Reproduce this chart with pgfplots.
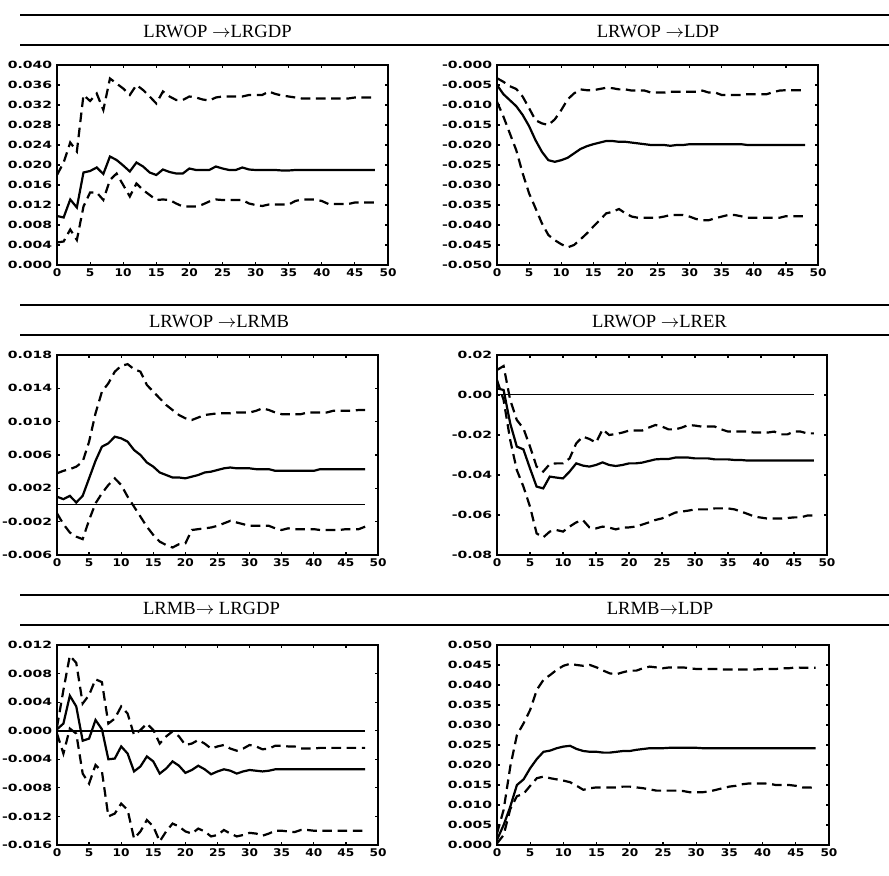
\documentclass[border=0pt]{standalone}
\usepackage{pgfplots}
\usepackage{pgfplotstable}
\pgfplotsset{compat=1.18}
\usepackage{fontspec}
\setmainfont{Liberation Serif}
\newfontfamily\ytf[FakeStretch=1.4]{DejaVu Sans}
\newfontfamily\xtf[FakeStretch=1.15]{DejaVu Sans}

\pgfplotstableread{
t m h l
0 0.0098 0.0180 0.0045
1 0.0095 0.0205 0.0047
2 0.0131 0.0245 0.0071
3 0.0115 0.0227 0.0050
4 0.0185 0.0340 0.0117
5 0.0188 0.0328 0.0145
6 0.0195 0.0343 0.0145
7 0.0182 0.0310 0.0130
8 0.0217 0.0373 0.0170
9 0.0210 0.0363 0.0183
10 0.0199 0.0353 0.0160
11 0.0187 0.0340 0.0137
12 0.0205 0.0360 0.0163
13 0.0197 0.0350 0.0150
14 0.0185 0.0337 0.0140
15 0.0180 0.0323 0.0130
16 0.0191 0.0347 0.0131
17 0.0186 0.0337 0.0130
18 0.0183 0.0330 0.0123
19 0.0183 0.0330 0.0117
20 0.0193 0.0337 0.0117
21 0.0190 0.0335 0.0117
22 0.0190 0.0331 0.0121
23 0.0190 0.0329 0.0127
24 0.0197 0.0335 0.0131
25 0.0193 0.0337 0.0130
26 0.0190 0.0337 0.0130
27 0.0190 0.0337 0.0130
28 0.0195 0.0337 0.0130
29 0.0191 0.0340 0.0123
30 0.0190 0.0340 0.0120
31 0.0190 0.0340 0.0118
32 0.0190 0.0347 0.0121
33 0.0190 0.0342 0.0121
34 0.0189 0.0339 0.0121
35 0.0189 0.0337 0.0121
36 0.0190 0.0335 0.0128
37 0.0190 0.0333 0.0131
38 0.0190 0.0333 0.0131
39 0.0190 0.0333 0.0131
40 0.0190 0.0333 0.0128
41 0.0190 0.0333 0.0122
42 0.0190 0.0333 0.0122
43 0.0190 0.0333 0.0122
44 0.0190 0.0333 0.0122
45 0.0190 0.0335 0.0125
46 0.0190 0.0335 0.0125
47 0.0190 0.0335 0.0125
48 0.0190 0.0335 0.0125
}\tA

\pgfplotstableread{
t m h l
0 -0.0050 -0.0033 -0.0092
1 -0.0073 -0.0042 -0.0129
2 -0.0088 -0.0053 -0.0171
3 -0.0103 -0.0060 -0.0213
4 -0.0125 -0.0079 -0.0271
5 -0.0153 -0.0108 -0.0321
6 -0.0188 -0.0138 -0.0358
7 -0.0217 -0.0146 -0.0396
8 -0.0238 -0.0150 -0.0425
9 -0.0242 -0.0136 -0.0438
10 -0.0238 -0.0113 -0.0448
11 -0.0232 -0.0086 -0.0456
12 -0.0221 -0.0071 -0.0450
13 -0.0210 -0.0061 -0.0436
14 -0.0203 -0.0063 -0.0421
15 -0.0198 -0.0063 -0.0404
16 -0.0194 -0.0060 -0.0388
17 -0.0190 -0.0057 -0.0371
18 -0.0190 -0.0058 -0.0367
19 -0.0192 -0.0061 -0.0360
20 -0.0192 -0.0061 -0.0371
21 -0.0194 -0.0064 -0.0379
22 -0.0196 -0.0064 -0.0382
23 -0.0198 -0.0064 -0.0382
24 -0.0200 -0.0069 -0.0382
25 -0.0200 -0.0069 -0.0382
26 -0.0200 -0.0069 -0.0379
27 -0.0202 -0.0067 -0.0375
28 -0.0200 -0.0067 -0.0375
29 -0.0200 -0.0067 -0.0375
30 -0.0198 -0.0067 -0.0379
31 -0.0198 -0.0067 -0.0385
32 -0.0198 -0.0064 -0.0388
33 -0.0198 -0.0069 -0.0388
34 -0.0198 -0.0069 -0.0383
35 -0.0198 -0.0075 -0.0379
36 -0.0198 -0.0075 -0.0375
37 -0.0198 -0.0075 -0.0375
38 -0.0198 -0.0075 -0.0378
39 -0.0200 -0.0073 -0.0382
40 -0.0200 -0.0073 -0.0382
41 -0.0200 -0.0073 -0.0382
42 -0.0200 -0.0073 -0.0382
43 -0.0200 -0.0068 -0.0382
44 -0.0200 -0.0064 -0.0382
45 -0.0200 -0.0063 -0.0378
46 -0.0200 -0.0063 -0.0378
47 -0.0200 -0.0063 -0.0378
48 -0.0200 -0.0063 -0.0378
}\tB

\pgfplotstableread{
t m h l
0 0.0010 0.0038 -0.0010
1 0.0007 0.0041 -0.0023
2 0.0011 0.0043 -0.0033
3 0.0003 0.0046 -0.0038
4 0.0011 0.0052 -0.0041
5 0.0032 0.0076 -0.0018
6 0.0053 0.0110 0.0002
7 0.0070 0.0136 0.0014
8 0.0074 0.0146 0.0024
9 0.0082 0.0160 0.0032
10 0.0080 0.0167 0.0024
11 0.0076 0.0169 0.0010
12 0.0066 0.0163 -0.0002
13 0.0060 0.0160 -0.0014
14 0.0051 0.0144 -0.0026
15 0.0046 0.0136 -0.0036
16 0.0039 0.0128 -0.0044
17 0.0036 0.0120 -0.0048
18 0.0033 0.0114 -0.0051
19 0.0033 0.0108 -0.0047
20 0.0032 0.0104 -0.0046
21 0.0034 0.0102 -0.0030
22 0.0036 0.0105 -0.0029
23 0.0039 0.0108 -0.0028
24 0.0040 0.0109 -0.0027
25 0.0042 0.0110 -0.0025
26 0.0044 0.0110 -0.0022
27 0.0045 0.0110 -0.0019
28 0.0044 0.0111 -0.0021
29 0.0044 0.0111 -0.0023
30 0.0044 0.0111 -0.0025
31 0.0043 0.0113 -0.0025
32 0.0043 0.0116 -0.0025
33 0.0043 0.0114 -0.0025
34 0.0041 0.0111 -0.0028
35 0.0041 0.0109 -0.0030
36 0.0041 0.0109 -0.0028
37 0.0041 0.0109 -0.0029
38 0.0041 0.0109 -0.0029
39 0.0041 0.0111 -0.0029
40 0.0041 0.0111 -0.0029
41 0.0043 0.0111 -0.0030
42 0.0043 0.0111 -0.0030
43 0.0043 0.0113 -0.0030
44 0.0043 0.0113 -0.0030
45 0.0043 0.0113 -0.0029
46 0.0043 0.0113 -0.0029
47 0.0043 0.0114 -0.0029
48 0.0043 0.0114 -0.0026
}\tC

\pgfplotstableread{
t m h l
0 0.0033 0.0125 0.0075
1 0.0025 0.0145 -0.0025
2 -0.0142 -0.0025 -0.0225
3 -0.0258 -0.0125 -0.0375
4 -0.0272 -0.0167 -0.0458
5 -0.0367 -0.0258 -0.0558
6 -0.0458 -0.0358 -0.0692
7 -0.0467 -0.0383 -0.0712
8 -0.0408 -0.0345 -0.0683
9 -0.0413 -0.0342 -0.0675
10 -0.0417 -0.0342 -0.0683
11 -0.0383 -0.0317 -0.0658
12 -0.0342 -0.0242 -0.0637
13 -0.0353 -0.0208 -0.0625
14 -0.0358 -0.0220 -0.0662
15 -0.0350 -0.0238 -0.0667
16 -0.0337 -0.0172 -0.0658
17 -0.0350 -0.0200 -0.0663
18 -0.0355 -0.0195 -0.0672
19 -0.0350 -0.0188 -0.0663
20 -0.0342 -0.0178 -0.0662
21 -0.0342 -0.0178 -0.0658
22 -0.0338 -0.0178 -0.0648
23 -0.0330 -0.0163 -0.0637
24 -0.0322 -0.0150 -0.0625
25 -0.0320 -0.0158 -0.0617
26 -0.0320 -0.0172 -0.0603
27 -0.0313 -0.0172 -0.0588
28 -0.0313 -0.0163 -0.0583
29 -0.0313 -0.0150 -0.0578
30 -0.0317 -0.0153 -0.0572
31 -0.0317 -0.0158 -0.0572
32 -0.0317 -0.0158 -0.0572
33 -0.0322 -0.0158 -0.0567
34 -0.0322 -0.0172 -0.0567
35 -0.0322 -0.0183 -0.0567
36 -0.0325 -0.0183 -0.0572
37 -0.0325 -0.0183 -0.0583
38 -0.0328 -0.0183 -0.0595
39 -0.0328 -0.0188 -0.0608
40 -0.0328 -0.0188 -0.0613
41 -0.0328 -0.0188 -0.0618
42 -0.0328 -0.0183 -0.0618
43 -0.0328 -0.0197 -0.0618
44 -0.0328 -0.0197 -0.0615
45 -0.0328 -0.0183 -0.0612
46 -0.0328 -0.0183 -0.0612
47 -0.0328 -0.0192 -0.0603
48 -0.0328 -0.0192 -0.0603
}\tD

\pgfplotstableread{
t m h l
0 0.0002 0.0005 -0.0004
1 0.0010 0.0057 -0.0032
2 0.0049 0.0105 0.0003
3 0.0034 0.0095 -0.0004
4 -0.0014 0.0038 -0.0060
5 -0.0011 0.0050 -0.0074
6 0.0015 0.0072 -0.0048
7 0.0002 0.0068 -0.0057
8 -0.0040 0.0010 -0.0120
9 -0.0039 0.0017 -0.0116
10 -0.0022 0.0034 -0.0102
11 -0.0032 0.0024 -0.0111
12 -0.0057 -0.0006 -0.0151
13 -0.0050 0.0001 -0.0141
14 -0.0036 0.0010 -0.0125
15 -0.0043 0.0001 -0.0134
16 -0.0060 -0.0018 -0.0155
17 -0.0053 -0.0008 -0.0141
18 -0.0043 -0.0001 -0.0130
19 -0.0049 -0.0008 -0.0134
20 -0.0059 -0.0020 -0.0141
21 -0.0055 -0.0018 -0.0144
22 -0.0049 -0.0013 -0.0137
23 -0.0054 -0.0018 -0.0141
24 -0.0061 -0.0025 -0.0148
25 -0.0057 -0.0022 -0.0146
26 -0.0054 -0.0020 -0.0139
27 -0.0056 -0.0025 -0.0144
28 -0.0060 -0.0028 -0.0148
29 -0.0057 -0.0025 -0.0146
30 -0.0055 -0.0020 -0.0143
31 -0.0056 -0.0022 -0.0144
32 -0.0057 -0.0026 -0.0147
33 -0.0056 -0.0025 -0.0144
34 -0.0054 -0.0021 -0.0140
35 -0.0054 -0.0021 -0.0140
36 -0.0054 -0.0022 -0.0141
37 -0.0054 -0.0022 -0.0142
38 -0.0054 -0.0025 -0.0139
39 -0.0054 -0.0025 -0.0139
40 -0.0054 -0.0025 -0.0140
41 -0.0054 -0.0024 -0.0140
42 -0.0054 -0.0024 -0.0140
43 -0.0054 -0.0024 -0.0140
44 -0.0054 -0.0024 -0.0140
45 -0.0054 -0.0024 -0.0140
46 -0.0054 -0.0024 -0.0140
47 -0.0054 -0.0024 -0.0140
48 -0.0054 -0.0024 -0.0140
}\tE

\pgfplotstableread{
t m h l
0 0.0013 0.0029 0.0004
1 0.0050 0.0088 0.0025
2 0.0096 0.0196 0.0090
3 0.0150 0.0275 0.0122
4 0.0164 0.0304 0.0128
5 0.0192 0.0338 0.0148
6 0.0215 0.0388 0.0167
7 0.0233 0.0413 0.0171
8 0.0236 0.0425 0.0167
9 0.0242 0.0438 0.0164
10 0.0246 0.0448 0.0161
11 0.0248 0.0453 0.0157
12 0.0240 0.0450 0.0148
13 0.0235 0.0448 0.0138
14 0.0233 0.0450 0.0142
15 0.0233 0.0444 0.0144
16 0.0231 0.0436 0.0144
17 0.0231 0.0429 0.0144
18 0.0233 0.0427 0.0144
19 0.0235 0.0432 0.0146
20 0.0235 0.0436 0.0146
21 0.0238 0.0436 0.0144
22 0.0240 0.0442 0.0142
23 0.0242 0.0446 0.0139
24 0.0242 0.0444 0.0136
25 0.0242 0.0442 0.0136
26 0.0243 0.0444 0.0136
27 0.0243 0.0444 0.0136
28 0.0243 0.0444 0.0135
29 0.0243 0.0442 0.0132
30 0.0243 0.0440 0.0132
31 0.0242 0.0440 0.0132
32 0.0242 0.0440 0.0134
33 0.0242 0.0440 0.0138
34 0.0242 0.0439 0.0142
35 0.0242 0.0439 0.0146
36 0.0242 0.0439 0.0148
37 0.0242 0.0439 0.0152
38 0.0242 0.0439 0.0154
39 0.0242 0.0439 0.0154
40 0.0242 0.0440 0.0154
41 0.0242 0.0440 0.0153
42 0.0242 0.0440 0.0150
43 0.0242 0.0442 0.0150
44 0.0242 0.0442 0.0150
45 0.0242 0.0444 0.0148
46 0.0242 0.0443 0.0144
47 0.0242 0.0443 0.0144
48 0.0242 0.0443 0.0142
}\tF

\pgfplotsset{
  irf/.style={
    scale only axis, height=100pt, anchor=south west,
    xmin=0, xmax=50,
    scaled y ticks=false, scaled x ticks=false,
    xtick={0,5,...,50},
    xticklabels={0,5,10,15,20,25,30,35,40,45,50},
    tick align=inside, major tick length=1.6pt,
    every tick/.style={black, line width=0.6pt},
    axis line style={line width=1pt},
    xticklabel style={font=\xtf\bfseries\fontsize{5.3}{6}\selectfont, inner sep=0pt, yshift=-1.6pt},
    yticklabel style={font=\ytf\bfseries\fontsize{5}{6}\selectfont, inner sep=0pt, xshift=-2.2pt},
  },
  mid/.style={black, line width=1.1pt, no markers},
  band/.style={black, line width=1.1pt, no markers, dash pattern=on 4.8pt off 2.8pt},
}

\begin{document}
\begin{tikzpicture}
\useasboundingbox (0,0) rectangle (444.5pt,-438pt);
% rules
\foreach \yy in {-7.5,-22.5,-152.5,-167.5,-297.5,-312.5}{
  \draw[line width=1.1pt] (10pt,\yy pt) -- (444.5pt,\yy pt);
}
\node[anchor=base, font=\fontsize{9.3}{11}\selectfont, inner sep=0pt] at (108.75pt,-18.7pt) {LRWOP $\rightarrow$LRGDP};
\node[anchor=base, font=\fontsize{9.3}{11}\selectfont, inner sep=0pt] at (329pt,-18.7pt) {LRWOP $\rightarrow$LDP};
\node[anchor=base, font=\fontsize{9.3}{11}\selectfont, inner sep=0pt] at (109.5pt,-163.7pt) {LRWOP $\rightarrow$LRMB};
\node[anchor=base, font=\fontsize{9.3}{11}\selectfont, inner sep=0pt] at (329.75pt,-163.7pt) {LRWOP $\rightarrow$LRER};
\node[anchor=base, font=\fontsize{9.3}{11}\selectfont, inner sep=0pt] at (105.75pt,-307.5pt) {LRMB$\rightarrow$ LRGDP};
\node[anchor=base, font=\fontsize{9.3}{11}\selectfont, inner sep=0pt] at (330pt,-307.5pt) {LRMB$\rightarrow$LDP};

% Panel 1
\begin{axis}[irf, at={(28.5pt,-132.5pt)}, width=165.5pt,
  ymin=0, ymax=0.040,
  ytick={0,0.004,0.008,0.012,0.016,0.020,0.024,0.028,0.032,0.036,0.040},
  yticklabels={0.000,0.004,0.008,0.012,0.016,0.020,0.024,0.028,0.032,0.036,0.040}]
\addplot[mid] table[x=t,y=m]{\tA};
\addplot[band] table[x=t,y=h]{\tA};
\addplot[band] table[x=t,y=l]{\tA};
\end{axis}

% Panel 2
\begin{axis}[irf, at={(248.5pt,-132.5pt)}, width=160.5pt,
  ymin=-0.050, ymax=0,
  ytick={-0.050,-0.045,-0.040,-0.035,-0.030,-0.025,-0.020,-0.015,-0.010,-0.005,0},
  yticklabels={-0.050,-0.045,-0.040,-0.035,-0.030,-0.025,-0.020,-0.015,-0.010,-0.005,-0.000}]
\addplot[mid] table[x=t,y=m]{\tB};
\addplot[band] table[x=t,y=h]{\tB};
\addplot[band] table[x=t,y=l]{\tB};
\end{axis}

% Panel 3
\begin{axis}[irf, at={(28.5pt,-277.5pt)}, width=160.5pt,
  ymin=-0.006, ymax=0.018,
  ytick={-0.006,-0.002,0.002,0.006,0.010,0.014,0.018},
  yticklabels={-0.006,-0.002,0.002,0.006,0.010,0.014,0.018}]
\addplot[black, line width=0.5pt, no markers] coordinates {(0,0) (48,0)};
\addplot[mid] table[x=t,y=m]{\tC};
\addplot[band] table[x=t,y=h]{\tC};
\addplot[band] table[x=t,y=l]{\tC};
\end{axis}

% Panel 4
\begin{axis}[irf, at={(248.5pt,-277.5pt)}, width=165pt,
  ymin=-0.08, ymax=0.02,
  ytick={-0.08,-0.06,-0.04,-0.02,0,0.02},
  yticklabels={-0.08,-0.06,-0.04,-0.02,0.00,0.02}]
\addplot[black, line width=0.5pt, no markers] coordinates {(0,0) (48,0)};
\addplot[mid] table[x=t,y=m]{\tD};
\addplot[band] table[x=t,y=h]{\tD};
\addplot[band] table[x=t,y=l]{\tD};
\end{axis}

% Panel 5
\begin{axis}[irf, at={(28.5pt,-422.5pt)}, width=160.5pt,
  ymin=-0.016, ymax=0.012,
  ytick={-0.016,-0.012,-0.008,-0.004,0,0.004,0.008,0.012},
  yticklabels={-0.016,-0.012,-0.008,-0.004,0.000,0.004,0.008,0.012}]
\addplot[black, line width=1.1pt, no markers] coordinates {(0,0) (48,0)};
\addplot[mid] table[x=t,y=m]{\tE};
\addplot[band] table[x=t,y=h]{\tE};
\addplot[band] table[x=t,y=l]{\tE};
\end{axis}

% Panel 6
\begin{axis}[irf, at={(248.5pt,-422.5pt)}, width=166pt,
  ymin=0, ymax=0.050,
  ytick={0,0.005,0.010,0.015,0.020,0.025,0.030,0.035,0.040,0.045,0.050},
  yticklabels={0.000,0.005,0.010,0.015,0.020,0.025,0.030,0.035,0.040,0.045,0.050}]
\addplot[mid] table[x=t,y=m]{\tF};
\addplot[band] table[x=t,y=h]{\tF};
\addplot[band] table[x=t,y=l]{\tF};
\end{axis}
\end{tikzpicture}
\end{document}
